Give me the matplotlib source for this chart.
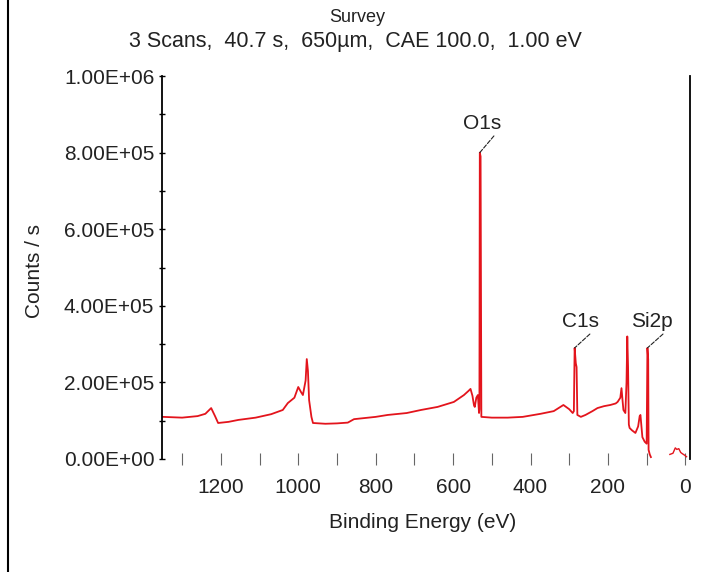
import numpy as np
import matplotlib
matplotlib.use("Agg")
import matplotlib.pyplot as plt
from matplotlib.ticker import MultipleLocator, FormatStrFormatter
from matplotlib.lines import Line2D

# survey spectrum, binding energy (eV) vs counts/s
be_main = [1350, 1300, 1260, 1240, 1225, 1215, 1207, 1180, 1155, 1110, 1070,
           1040, 1027, 1010, 1000, 993, 988, 981, 978, 975, 972, 966, 962,
           930, 900, 872, 856, 800, 769, 720, 683, 640, 598, 572, 560, 555,
           550, 546, 544, 540, 536, 533, 532, 531, 529, 527, 500, 459, 420,
           374, 340, 315, 300, 291, 288, 286, 283, 281, 279, 270, 258, 240,
           227, 210, 194, 180, 175, 168, 165, 162, 160, 155, 152, 150, 148,
           146, 144, 138, 129, 122, 118, 116, 113, 111, 105, 100, 98, 96, 95,
           92, 89]
cps_main = [110e3, 108e3, 112e3, 118e3, 133e3, 112e3, 94e3, 97e3, 102e3,
            108e3, 117e3, 128e3, 146e3, 160e3, 188e3, 175e3, 167e3, 205e3,
            261e3, 230e3, 154e3, 110e3, 94e3, 92e3, 93e3, 95e3, 104e3, 110e3,
            115e3, 120e3, 128e3, 136e3, 149e3, 167e3, 178e3, 183e3, 165e3,
            140e3, 136e3, 160e3, 167e3, 120e3, 130e3, 800e3, 790e3, 110e3,
            108e3, 108e3, 110e3, 118e3, 125e3, 141e3, 130e3, 120e3, 125e3,
            290e3, 250e3, 240e3, 115e3, 110e3, 115e3, 125e3, 133e3, 138e3,
            141e3, 145e3, 149e3, 160e3, 185e3, 150e3, 128e3, 120e3, 200e3,
            320e3, 240e3, 90e3, 81e3, 75e3, 68e3, 85e3, 112e3, 115e3, 80e3,
            57e3, 45e3, 40e3, 290e3, 260e3, 24e3, 12e3, 5e3]

be_low = [40, 32, 26, 22, 17, 12, 8, 2, -3]
cps_low = [12e3, 15e3, 29e3, 25e3, 27e3, 17e3, 14e3, 10e3, 6e3]

peak_names = ["O1s", "C1s", "Si2p"]
peak_be = [531, 286, 98]
peak_cps = [800e3, 290e3, 290e3]
label_offsets = [(2, 14), (4, 12), (3, 12)]

plt.rcParams['font.family'] = ['Liberation Sans', 'DejaVu Sans']
plt.rcParams['font.size'] = 15
txt = '#222222'

fig = plt.figure(figsize=(7.06, 5.72), dpi=100)
ax = fig.add_axes([162 / 706, 113 / 572, 528 / 706, 383 / 572])

red = '#e3141c'
ax.plot(be_main, cps_main, color=red, lw=1.3)
ax.plot(be_low, cps_low, color=red, lw=1.0)

for name, x, y, off in zip(peak_names, peak_be, peak_cps, label_offsets):
    ax.annotate(name, xy=(x, y), xytext=off, textcoords='offset points',
                ha='center', va='bottom', fontsize=15, color=txt,
                arrowprops=dict(arrowstyle='-', ls='--', color=txt,
                                lw=0.8, shrinkA=0, shrinkB=0,
                                relpos=(0.9, 0.1)))

ax.set_xlim(1352, -12)
ax.set_ylim(0, 1e6)

ax.xaxis.set_major_locator(MultipleLocator(200))
ax.xaxis.set_minor_locator(MultipleLocator(100))
ax.yaxis.set_major_locator(MultipleLocator(2e5))
ax.yaxis.set_minor_locator(MultipleLocator(1e5))
ax.yaxis.set_major_formatter(FormatStrFormatter('%.2E'))

ax.tick_params(axis='y', which='both', direction='inout', length=5,
               width=1.0, pad=3, labelcolor=txt, labelsize=15)
ax.tick_params(axis='x', which='both', direction='inout', length=8,
               width=0.8, color='#666666', pad=10, labelcolor=txt,
               labelsize=15)

for side in ['top', 'bottom']:
    ax.spines[side].set_visible(False)
ax.spines['left'].set_linewidth(1.3)
ax.spines['right'].set_linewidth(1.3)

fig.text(357 / 706, 1 - 18 / 572, "Survey", ha='center', va='center',
         fontsize=13, color=txt)
fig.text(355 / 706, 1 - 42 / 572,
         "3 Scans,  40.7 s,  650µm,  CAE 100.0,  1.00 eV",
         ha='center', va='center', fontsize=15.5, color=txt)
fig.text(35 / 706, 1 - 271 / 572, "Counts / s", rotation=90,
         ha='center', va='center', fontsize=15, color=txt)
fig.text(423 / 706, 1 - 522 / 572, "Binding Energy (eV)",
         ha='center', va='center', fontsize=15, color=txt)

# frame line down the left edge
fig.add_artist(Line2D([7.5 / 706, 7.5 / 706], [0, 1], color='k', lw=1.5))

fig.savefig('out.png', dpi=100)
